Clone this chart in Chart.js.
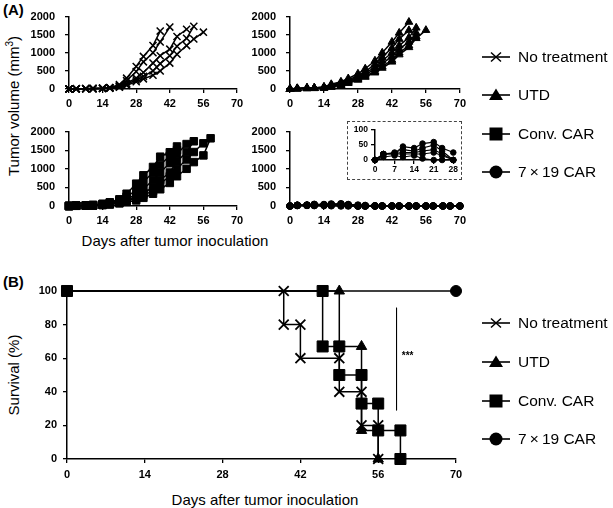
<!DOCTYPE html>
<html>
<head>
<meta charset="utf-8">
<script src="https://cdn.jsdelivr.net/npm/chart.js@4.4.1/dist/chart.umd.min.js"></script>
<style>
  body { margin:0; width:613px; height:508px; background:#fff; position:relative; overflow:hidden;
         font-family:'Liberation Sans', Arial, sans-serif; color:#000; }
  .box { position:absolute; }
  .txt { position:absolute; white-space:nowrap; line-height:1; }
  .leg { position:absolute; left:481px; height:18px; display:flex; align-items:center; font-size:15.5px; white-space:nowrap; }
  .leg svg { margin-right:8px; }
  #insetBox { position:absolute; left:347px; top:121px; width:113px; height:57px; border:1px dashed #444; }
</style>
</head>
<body>

<div class="txt" style="left:3px;top:2px;font-size:15px;font-weight:bold;">(A)</div>
<div class="txt" style="left:3px;top:274px;font-size:15px;font-weight:bold;">(B)</div>
<div class="txt" style="left:13px;top:106px;font-size:15px;transform:translate(-50%,-50%) rotate(-90deg);">Tumor volume (mm<sup style="font-size:10px;">3</sup>)</div>
<div class="txt" style="left:13px;top:375px;font-size:15px;transform:translate(-50%,-50%) rotate(-90deg);">Survival (%)</div>
<div class="txt" style="left:175px;top:240px;font-size:15px;transform:translate(-50%,-50%);">Days after tumor inoculation</div>
<div class="txt" style="left:265px;top:499px;font-size:15px;transform:translate(-50%,-50%);">Days after tumor inoculation</div>

<div class="box" style="left:20px;top:0px;"><canvas id="ntChart" width="230" height="110"></canvas></div>
<div class="box" style="left:240px;top:0px;"><canvas id="utdChart" width="230" height="110"></canvas></div>
<div class="box" style="left:20px;top:115px;"><canvas id="convChart" width="230" height="112"></canvas></div>
<div class="box" style="left:240px;top:115px;"><canvas id="carChart" width="230" height="112"></canvas></div>
<div id="insetBox"><canvas id="insetChart" width="111" height="55"></canvas></div>
<div class="box" style="left:10px;top:270px;"><canvas id="survChart" width="460" height="220"></canvas></div>
<div class="txt" id="stars" style="font-size:10px;font-weight:bold;">***</div>

<div id="legTop"></div>
<div id="legBottom"></div>

<script>
// measurement days (twice a week)
const days = [0,3,7,10,14,17,21,24,28,31,35,38,42,45,49,52,56,59,63,66,70];

// tumor volume per mouse (mm3), one array per mouse, ends when the mouse died
const noTreatment = [
    [0,5,10,15,25,40,120,300,620,900,1200,1600],
    [0,5,10,15,20,35,90,230,480,750,1000,1300,1710],
    [0,5,8,12,20,30,70,160,300,455,715,920,1100,1450,1650],
    [0,4,8,10,15,25,60,130,250,350,500,700,920,1180,1400,1730],
    [0,4,6,10,15,25,50,100,200,280,380,500,715,960,1200,1380,1570]
];
const utd = [
    [0,20,35,30,60,130,200,290,420,560,780,1000,1300,1550,1850],
    [0,15,25,30,50,110,170,250,370,480,680,880,1130,1380,1620],
    [0,10,20,25,40,90,150,220,330,440,600,780,1000,1200,1420,1690],
    [0,10,20,20,35,70,130,200,300,400,540,700,900,1100,1300,1550],
    [0,8,15,20,30,60,110,180,270,360,480,620,800,1000,1200,1450],
    [0,8,15,18,28,55,100,160,250,330,450,580,750,950,1150,1400,1625]
];
const convCar = [
    [0,10,15,30,60,100,180,330,600,825,1050,1325,1445,1600],
    [0,10,15,25,50,80,150,250,420,650,900,1100,1350,1500],
    [0,8,12,20,40,70,120,200,300,450,700,900,1150,1400,1665],
    [0,8,12,20,35,60,100,170,250,350,500,700,900,1200,1450,1740],
    [0,6,10,15,30,50,90,140,200,300,400,600,800,1000,1250,1450,1685],
    [0,5,10,15,25,40,70,110,150,220,330,450,620,800,1000,1180,1360,1820]
];
const car719 = [
    [0,20,22,45,40,55,60,40,25,15,5,0,0,0,0,0,0,0,0,0,0],
    [0,20,25,35,30,40,50,30,0,0,0,0,0,0,0,0,0,0,0,0,0],
    [0,20,22,25,25,30,35,20,0,0,0,0,0,0,0,0,0,0,0,0,0],
    [0,20,20,20,20,20,25,15,0,0,0,0,0,0,0,0,0,0,0,0,0],
    [0,10,15,10,15,5,0,0,0,0,0,0,0,0,0,0,0,0,0,0,0]
];

// survival (%), step corners
const survNtDays   = [0,39,39,42,42,49,49,53,53,56,56];
const survNt       = [100,100,80,80,60,60,40,40,20,20,0];
const survUtdDays  = [0,49,49,53,53,56,56];
const survUtd      = [100,100,67,67,17,17,0];
const survConvDays = [0,46,46,49,49,53,53,56,56,60,60];
const survConv     = [100,100,67,67,50,50,33,33,17,17,0];
const surv719Days  = [0,70];
const surv719      = [100,100];

// significance bar
const sigDays = [59.3,59.3];
const sigSurv = [90,29];
const starsAt = [61.3,61.5];

const legendLabels = ["No treatment","UTD","Conv. CAR","7\u2009\u00d7\u200919 CAR"];

const FONT = "'Liberation Sans', Arial, sans-serif";

const pts = (xs, ys) => ys.map((y, i) => ({ x: xs[i], y: y }));

const axis = (min, max, step, font, pad, size, horizontal) => ({
    type: 'linear', min: min, max: max,
    ticks: { stepSize: step, color: '#000', font: font, padding: pad, autoSkip: false, maxRotation: 0,
             callback: v => String(v) },
    grid: { drawOnChartArea: false, drawTicks: true, tickLength: 4, color: '#000', lineWidth: 1.3 },
    border: { color: '#000', width: 1.5 },
    afterFit: s => { if (horizontal) s.height = size; else s.width = size; }
});

const growth = (mice, style, r, xMax) => mice.map(v => ({
    data: pts(days, v).filter(p => p.x <= xMax),
    borderColor: '#000', backgroundColor: '#000', borderWidth: 1.5,
    pointStyle: style, pointRadius: r, pointBorderWidth: style === 'crossRot' ? 1.5 : 1,
    pointBackgroundColor: '#000', pointBorderColor: '#000', clip: false
}));

function makeChart(id, datasets, xs, ys, pad) {
    return new Chart(document.getElementById(id), {
        type: 'line',
        data: { datasets: datasets },
        options: {
            responsive: false, animation: false,
            layout: { padding: pad },
            plugins: { legend: { display: false }, tooltip: { enabled: false } },
            scales: { x: xs, y: ys }
        }
    });
}

const tickFont = { family: FONT, size: 11, weight: 'bold' };
const smallFont = { family: FONT, size: 8.5, weight: 'bold' };
const survFont = { family: FONT, size: 11, weight: 'bold' };

// (A) tumor growth panels
const padA = { left: 0, top: 7, right: 13, bottom: 0 };
makeChart("ntChart", growth(noTreatment, 'crossRot', 5, 70),
    axis(0, 70, 14, tickFont, 4, 21, true), axis(0, 2000, 500, tickFont, 10, 49, false), padA);
makeChart("utdChart", growth(utd, 'triangle', 4.5, 70),
    axis(0, 70, 14, tickFont, 4, 21, true), axis(0, 2000, 500, tickFont, 10, 50, false), { left: 0, top: 7, right: 10, bottom: 0 });
makeChart("convChart", growth(convCar, 'rect', 5.3, 70),
    axis(0, 70, 14, tickFont, 4, 21, true), axis(0, 2000, 500, tickFont, 10, 49, false), { left: 0, top: 8, right: 13, bottom: 0 });
makeChart("carChart", growth(car719, 'circle', 3.3, 70),
    axis(0, 70, 14, tickFont, 4, 21, true), axis(0, 2000, 500, tickFont, 10, 50, false), { left: 0, top: 8, right: 10, bottom: 0 });

// inset: 7x19 CAR zoomed to day 28
makeChart("insetChart", growth(car719, 'circle', 2.8, 28).map(d => ({ ...d, borderWidth: 1.2 })),
    axis(0, 28, 7, smallFont, 1, 17, true), axis(0, 100, 50, smallFont, 3, 27, false), { left: 0, top: 4, right: 3, bottom: 0 });

// (B) survival
const survSet = (xs, ys, style, r) => ({
    data: pts(xs, ys), borderColor: '#000', backgroundColor: '#000', borderWidth: 1.5,
    pointStyle: style, pointRadius: r, pointBorderWidth: style === 'crossRot' ? 1.8 : 1,
    pointBackgroundColor: '#000', pointBorderColor: '#000', clip: false
});
const surv = makeChart("survChart", [
        survSet(surv719Days, surv719, 'circle', 5.5),
        survSet(survNtDays, survNt, 'crossRot', 7),
        survSet(survUtdDays, survUtd, 'triangle', 6),
        survSet(survConvDays, survConv, 'rect', 7.8),
        { data: pts(sigDays, sigSurv), borderColor: '#000', borderWidth: 1, pointRadius: 0, clip: false }
    ],
    axis(0, 70, 14, survFont, 5, 31, true), axis(0, 100, 20, survFont, 6, 57, false),
    { left: 0, top: 21, right: 14, bottom: 0 });

const st = document.getElementById("stars");
st.style.left = (10 + surv.scales.x.getPixelForValue(starsAt[0])) + "px";
st.style.top = (270 + surv.scales.y.getPixelForValue(starsAt[1])) + "px";
st.style.transform = "translate(-50%,-50%)";

// legends
const icons = [
    '<line x1="0" y1="9" x2="28" y2="9" stroke="#000" stroke-width="1.6"/><path d="M9 4.5 L19 13.5 M19 4.5 L9 13.5" stroke="#000" stroke-width="1.5"/>',
    '<line x1="0" y1="9" x2="28" y2="9" stroke="#000" stroke-width="1.6"/><path d="M14 2.5 L21 14 L7 14 Z" fill="#000"/>',
    '<line x1="0" y1="9" x2="28" y2="9" stroke="#000" stroke-width="1.6"/><rect x="7.5" y="2.5" width="13" height="13" fill="#000"/>',
    '<line x1="0" y1="9" x2="28" y2="9" stroke="#000" stroke-width="1.6"/><circle cx="14" cy="9" r="6.5" fill="#000"/>'
];
const buildLegend = (elId, rowsY, left) => {
    let div = document.getElementById(elId);
    legendLabels.forEach((lab, i) => {
        div.innerHTML += `<div class="leg" style="top:${rowsY[i] - 9}px;left:${left}px;">
            <svg width="28" height="18">${icons[i]}</svg><span>${lab}</span></div>`;
    });
};
buildLegend("legTop", [57, 95, 134, 172], 482);
buildLegend("legBottom", [323, 362, 401, 439], 482);
</script>
</body>
</html>
